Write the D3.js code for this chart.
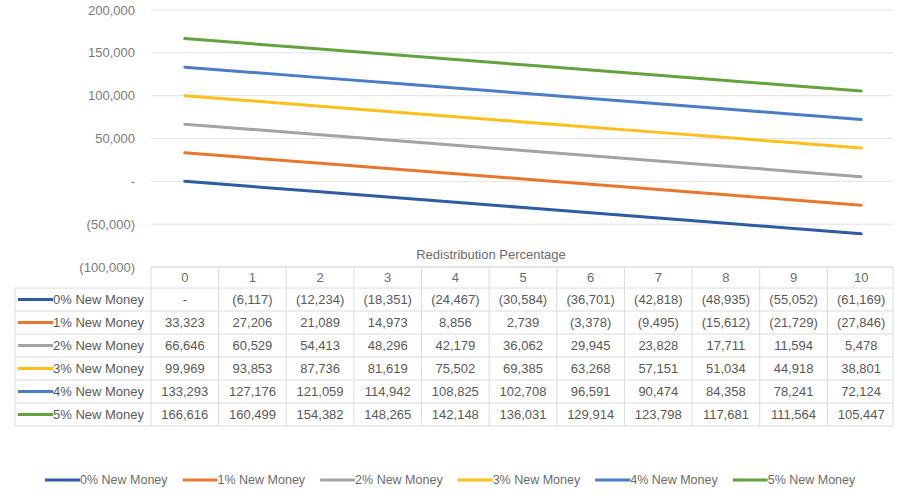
<!DOCTYPE html>
<html>
<head>
<meta charset="utf-8">
<script src="https://cdn.jsdelivr.net/npm/d3@7"></script>
<style>
  body { margin: 0; background: #fff; }
  svg { display: block; font-family: "Liberation Sans", Arial, sans-serif; }
</style>
</head>
<body>
<div id="chart"></div>
<script>
// Redistribution percentages (x categories)
const categories = [0, 1, 2, 3, 4, 5, 6, 7, 8, 9, 10];
const seriesNames = ["0% New Money", "1% New Money", "2% New Money", "3% New Money", "4% New Money", "5% New Money"];
const colors = ["#2f5aa6", "#e8772e", "#a3a3a3", "#ffbf1a", "#4a7dc8", "#63a33e"];

const money0 = [0, -6117, -12234, -18351, -24467, -30584, -36701, -42818, -48935, -55052, -61169];
const money1 = [33323, 27206, 21089, 14973, 8856, 2739, -3378, -9495, -15612, -21729, -27846];
const money2 = [66646, 60529, 54413, 48296, 42179, 36062, 29945, 23828, 17711, 11594, 5478];
const money3 = [99969, 93853, 87736, 81619, 75502, 69385, 63268, 57151, 51034, 44918, 38801];
const money4 = [133293, 127176, 121059, 114942, 108825, 102708, 96591, 90474, 84358, 78241, 72124];
const money5 = [166616, 160499, 154382, 148265, 142148, 136031, 129914, 123798, 117681, 111564, 105447];

const yTicks = [-100000, -50000, 0, 50000, 100000, 150000, 200000];
const xTitle = "Redistribution Percentage";

const series = [money0, money1, money2, money3, money4, money5].map((values, i) => ({
    name: seriesNames[i],
    color: colors[i],
    values
}));

const width = 913, height = 495;
const tableLeft = 15;
const rowH = 23;

// accounting style like Excel
const comma = d3.format(",");
const acct = v => v === 0 ? "-" : v < 0 ? `(${comma(-v)})` : comma(v);

const x = d3.scaleBand()
    .domain(categories)
    .range([151, 895]);

const y = d3.scaleLinear()
    .domain([-100000, 200000])
    .range([267, 10]);

const svg = d3.select("#chart").append("svg")
    .attr("width", width)
    .attr("height", height)
    .attr("viewBox", [0, 0, width, height]);

// gridlines
svg.append("g")
    .selectAll("line")
    .data(yTicks)
    .join("line")
        .attr("x1", x.range()[0])
        .attr("x2", x.range()[1] - 2)
        .attr("y1", d => y(d))
        .attr("y2", d => y(d))
        .attr("stroke", "#e3e3e3")
        .attr("stroke-width", 1);

// y tick labels
svg.append("g")
        .attr("fill", "#7a7a7a")
        .attr("font-size", 13)
        .attr("text-anchor", "end")
    .selectAll("text")
    .data(yTicks)
    .join("text")
        .attr("x", 135)
        .attr("y", d => y(d))
        .attr("dy", "0.35em")
        .text(acct);

// lines
const line = d3.line()
    .x((d, i) => x(categories[i]) + x.bandwidth() / 2)
    .y(d => y(d));

svg.append("g")
        .attr("fill", "none")
        .attr("stroke-width", 3)
        .attr("stroke-linecap", "round")
    .selectAll("path")
    .data(series)
    .join("path")
        .attr("stroke", d => d.color)
        .attr("d", d => line(d.values));

// axis title
svg.append("text")
    .attr("x", 491)
    .attr("y", 254)
    .attr("dy", "0.35em")
    .attr("text-anchor", "middle")
    .attr("font-size", 13)
    .attr("fill", "#6b6b6b")
    .text(xTitle);

// data table
const tableTop = y(-100000);
const headerBottom = tableTop + 21;
const tableBottom = headerBottom + rowH * series.length;
const grid = svg.append("g")
    .attr("stroke", "#dcdcdc")
    .attr("stroke-width", 1);

// header row top + vertical lines
grid.append("line")
    .attr("x1", x.range()[0]).attr("x2", x.range()[1] - 2)
    .attr("y1", tableTop).attr("y2", tableTop);

grid.selectAll(".v")
    .data(categories.concat(["end"]))
    .join("line")
        .attr("class", "v")
        .attr("x1", (d, i) => i < categories.length ? x(d) : x.range()[1] - 2)
        .attr("x2", (d, i) => i < categories.length ? x(d) : x.range()[1] - 2)
        .attr("y1", tableTop)
        .attr("y2", tableBottom);

grid.append("line")
    .attr("x1", tableLeft).attr("x2", tableLeft)
    .attr("y1", headerBottom).attr("y2", tableBottom);

grid.selectAll(".h")
    .data(d3.range(series.length + 1))
    .join("line")
        .attr("class", "h")
        .attr("x1", tableLeft)
        .attr("x2", x.range()[1] - 2)
        .attr("y1", d => headerBottom + d * rowH)
        .attr("y2", d => headerBottom + d * rowH);

// header labels
svg.append("g")
        .attr("fill", "#6b6b6b")
        .attr("font-size", 13)
        .attr("text-anchor", "middle")
    .selectAll("text")
    .data(categories)
    .join("text")
        .attr("x", d => x(d) + x.bandwidth() / 2)
        .attr("y", (tableTop + headerBottom) / 2)
        .attr("dy", "0.35em")
        .text(d => d);

const rows = svg.append("g")
    .selectAll("g")
    .data(series)
    .join("g")
        .attr("transform", (d, i) => `translate(0,${headerBottom + i * rowH + rowH / 2})`);

rows.append("line")
    .attr("x1", 18).attr("x2", 53)
    .attr("stroke", d => d.color)
    .attr("stroke-width", 3);

rows.append("text")
    .attr("x", 53)
    .attr("dy", "0.35em")
    .attr("font-size", 13)
    .attr("fill", "#595959")
    .text(d => d.name);

rows.selectAll(".cell")
    .data(d => d.values)
    .join("text")
        .attr("class", "cell")
        .attr("x", (d, i) => x(categories[i]) + x.bandwidth() / 2)
        .attr("dy", "0.35em")
        .attr("text-anchor", "middle")
        .attr("font-size", 13)
        .attr("fill", "#595959")
        .text(acct);

// bottom legend
const legend = svg.append("g")
    .attr("transform", "translate(45,480)");

let lx = 0;
series.forEach(s => {
    const g = legend.append("g").attr("transform", `translate(${lx},0)`);
    g.append("line")
        .attr("x1", 0).attr("x2", 35)
        .attr("stroke", s.color)
        .attr("stroke-width", 3);
    const t = g.append("text")
        .attr("x", 35)
        .attr("dy", "0.35em")
        .attr("font-size", 12.5)
        .attr("fill", "#6b6b6b")
        .text(s.name);
    lx += 35 + t.node().getComputedTextLength() + 15;
});
</script>
</body>
</html>
